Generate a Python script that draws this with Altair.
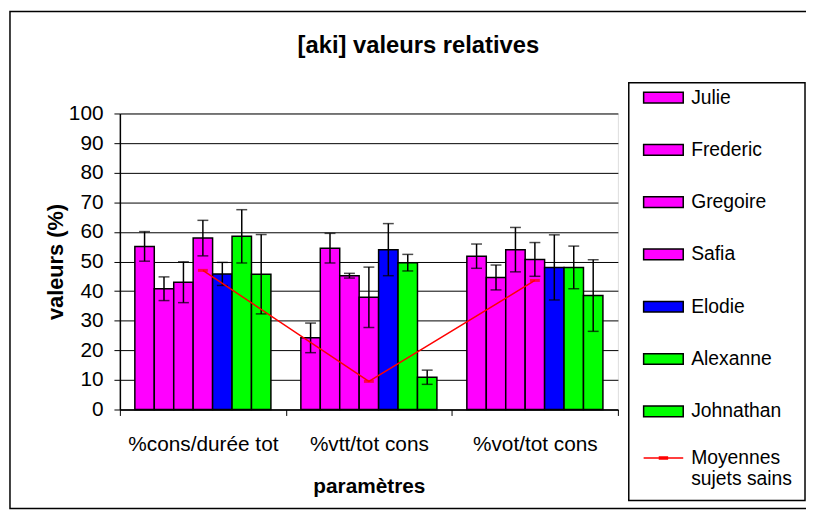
import altair as alt
import pandas as pd

categories = ["%cons/durée tot", "%vtt/tot cons", "%vot/tot cons"]
persons = ["Julie", "Frederic", "Gregoire", "Safia", "Elodie", "Alexanne", "Johnathan"]
colors = ["#FF00FF", "#FF00FF", "#FF00FF", "#FF00FF", "#0000FF", "#00FF00", "#00FF00"]

# values per person, one per category
julie = [55.1, 24.2, 51.8]
frederic = [40.8, 54.5, 44.6]
gregoire = [43.0, 45.2, 54.0]
safia = [57.9, 37.9, 50.7]
elodie = [45.8, 54.0, 48.0]
alexanne = [58.5, 49.6, 48.0]
johnathan = [45.7, 10.9, 38.5]

# error bar half-widths
err_julie = [5.0, 5.0, 4.1]
err_frederic = [4.0, 5.0, 4.2]
err_gregoire = [6.9, 0.8, 7.5]
err_safia = [6.0, 10.2, 5.7]
err_elodie = [3.9, 8.8, 11.0]
err_alexanne = [9.0, 2.8, 7.2]
err_johnathan = [13.4, 2.4, 12.1]

means = [47.0, 9.5, 43.6]
mean_label = "Moyennes sujets sains"

vals = [julie, frederic, gregoire, safia, elodie, alexanne, johnathan]
errs = [err_julie, err_frederic, err_gregoire, err_safia, err_elodie, err_alexanne, err_johnathan]

rows = []
for ci, c in enumerate(categories):
    for pi, p in enumerate(persons):
        v = vals[pi][ci]
        e = errs[pi][ci]
        rows.append({"cat": c, "person": p, "value": v, "lo": v - e, "hi": v + e})
df = pd.DataFrame(rows)
mdf = pd.DataFrame({"cat": categories, "mean": means, "serie": [mean_label] * 3})

FONT = "Liberation Sans"
W, H = 503, 299

xscale = alt.Scale(domain=categories, paddingInner=0, paddingOuter=0)
offscale = alt.Scale(domain=persons, paddingInner=0, paddingOuter=0.77)
yscale = alt.Scale(domain=[0, 100], nice=False, zero=True)

xaxis = alt.Axis(title="paramètres", labelAngle=0, tickBand="extent", grid=False,
                 domainColor="black", tickColor="black", tickSize=6, domainWidth=1.5,
                 labelFont=FONT, labelFontSize=21, labelColor="black", labelPadding=18,
                 titleFont=FONT, titleFontSize=21, titleFontWeight="bold", titleColor="black",
                 titlePadding=22, labelLimit=300)
yaxis = alt.Axis(title="valeurs (%)", values=list(range(0, 101, 10)), grid=True, gridColor="black",
                 gridWidth=1, domainColor="black", domainWidth=1.5, tickColor="black", tickSize=6,
                 labelFont=FONT, labelFontSize=21, labelColor="black", labelPadding=11,
                 titleFont=FONT, titleFontSize=22, titleFontWeight="bold", titleColor="black",
                 titlePadding=1)

X = alt.X("cat:N", scale=xscale, sort=categories, axis=xaxis)
XO = alt.XOffset("person:N", scale=offscale, sort=persons)

bars = alt.Chart(df).mark_bar(stroke="black", strokeWidth=1.5).encode(
    x=X, xOffset=XO,
    y=alt.Y("value:Q", scale=yscale, axis=yaxis),
    fill=alt.Fill("person:N", scale=alt.Scale(domain=persons, range=colors), sort=persons,
                  legend=alt.Legend(title=None, orient="none", legendX=528, legendY=-37, padding=0,
                                    symbolType="M-1,-0.27H1V0.27H-1Z", symbolSize=1600,
                                    symbolStrokeColor="black", symbolStrokeWidth=1.5,
                                    labelFont=FONT, labelFontSize=19.5, labelColor="black",
                                    labelOffset=7, rowPadding=21.8, labelLimit=200)),
)

rules = alt.Chart(df).mark_rule(color="black", strokeWidth=1.5).encode(
    x=X, xOffset=XO,
    y=alt.Y("lo:Q", scale=yscale, axis=yaxis), y2="hi:Q",
)
caps_lo = alt.Chart(df).mark_tick(color="black", size=11, thickness=1.5).encode(
    x=X, xOffset=XO, y=alt.Y("lo:Q", scale=yscale, axis=yaxis))
caps_hi = alt.Chart(df).mark_tick(color="black", size=11, thickness=1.5).encode(
    x=X, xOffset=XO, y=alt.Y("hi:Q", scale=yscale, axis=yaxis))

line = alt.Chart(mdf).mark_line(strokeWidth=1.5).encode(
    x=X,
    y=alt.Y("mean:Q", scale=yscale, axis=yaxis),
    stroke=alt.Stroke("serie:N", scale=alt.Scale(domain=[mean_label], range=["#FF0000"]),
                      legend=alt.Legend(title=None, orient="none", legendX=528, legendY=333, padding=0,
                                        symbolType="M-1,-0.3H1M-0.2,-0.35H0.2V-0.25H-0.2Z", symbolSize=1600,
                                        symbolStrokeWidth=1.5, symbolStrokeColor="#FF0000",
                                        labelFont=FONT, labelFontSize=19.5, labelColor="black",
                                        labelOffset=7, labelLimit=200, labelBaseline="alphabetic",
                                        labelExpr="['Moyennes', 'sujets sains']")),
)
marks = alt.Chart(mdf).mark_tick(color="#FF0000", size=10, thickness=3).encode(
    x=X, y=alt.Y("mean:Q", scale=yscale, axis=yaxis))

one = pd.DataFrame({"k": [0]})
legend_box = alt.Chart(one).mark_rect(fillOpacity=0, stroke="black", strokeWidth=1.5, clip=False).encode(
    x=alt.value(514), x2=alt.value(692), y=alt.value(-31), y2=alt.value(391))
outer_box = alt.Chart(one).mark_rect(fillOpacity=0, stroke="black", strokeWidth=1.5, clip=False).encode(
    x=alt.value(-111), x2=alt.value(697), y=alt.value(-103), y2=alt.value(399))

chart = alt.layer(outer_box, legend_box, bars, rules, caps_lo, caps_hi, line, marks).properties(
    width=W, height=H,
    title=alt.TitleParams("[aki] valeurs relatives", font=FONT, fontSize=24, fontWeight="bold",
                          color="black", anchor="middle", dx=50, dy=52, offset=4, frame="group"),
    autosize=alt.AutoSizeParams(type="none"),
    padding={"left": 113, "top": 104, "right": 190, "bottom": 102},
).configure_view(stroke="#808080", strokeWidth=1.5).configure(background="white")

chart.save("out.html", embed_options={"renderer": "svg", "actions": False})
